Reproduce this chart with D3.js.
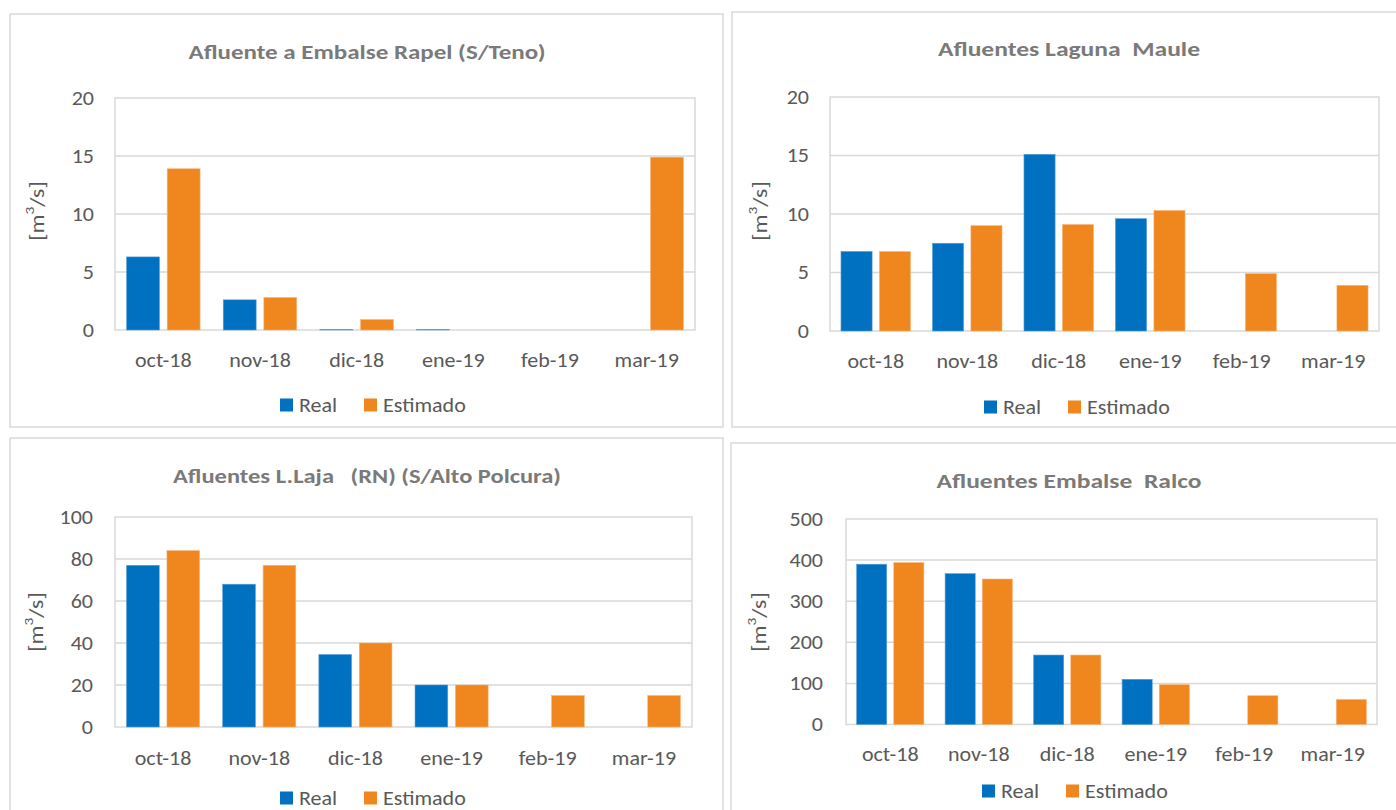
<!DOCTYPE html>
<html>
<head>
<meta charset="utf-8">
<script src="https://cdn.jsdelivr.net/npm/d3@7"></script>
<style>
  html, body { margin: 0; padding: 0; background: #ffffff; }
  svg { display: block; }
  text { font-family: Carlito, Calibri, Lato, "Open Sans", sans-serif; }
</style>
</head>
<body>
<svg id="chart" width="1396" height="810"></svg>
<script>
// Months shown on every panel
const months = ["oct-18", "nov-18", "dic-18", "ene-19", "feb-19", "mar-19"];
const seriesNames = ["Real", "Estimado"];

// Flows in m3/s, one pair of series per reservoir
const rapelReal = [6.3, 2.6, 0.05, 0.05, 0, 0];
const rapelEst  = [13.9, 2.8, 0.9, 0, 0, 14.9];

const mauleReal = [6.8, 7.5, 15.1, 9.6, 0, 0];
const mauleEst  = [6.8, 9.0, 9.1, 10.3, 4.9, 3.9];

const lajaReal = [77, 68, 34.5, 20, 0, 0];
const lajaEst  = [84, 77, 40, 20, 15, 15];

const ralcoReal = [390, 367, 169, 110, 0, 0];
const ralcoEst  = [394, 354, 169, 97, 70, 61];

// Y-axis tick values
const ticks20  = [0, 5, 10, 15, 20];
const ticks100 = [0, 20, 40, 60, 80, 100];
const ticks500 = [0, 100, 200, 300, 400, 500];

// Panel titles
const titles = [
  "Afluente a Embalse Rapel (S/Teno)",
  "Afluentes Laguna  Maule",
  "Afluentes L.Laja   (RN) (S/Alto Polcura)",
  "Afluentes Embalse  Ralco"
];

const colors = { "Real": "#0070C0", "Estimado": "#EF861E" };
const edge = { "Real": "#5a9fd6", "Estimado": "#f6b67a" };
const gridColor = "#d9d9d9";
const textColor = "#595959";
const titleColor = "#7a7a7a";
const WIDEN = 1.13;   // horizontal widening of body text
const FS = 19.5;      // body font size

const panels = [
  { title: titles[0], real: rapelReal, est: rapelEst, ticks: ticks20,
    box: [10, 14, 713, 413], plot: [115, 695, 98, 330],
    titleY: 52, titleX: 367, titleW: 357, xLabY: 360, legY: 405, legX: 280,
    yLabX: 37, yLabY: 211, tickR: 94 },
  { title: titles[1], real: mauleReal, est: mauleEst, ticks: ticks20,
    box: [732, 12, 700, 415], plot: [830, 1379, 97, 331],
    titleY: 49, titleX: 1069, titleW: 262, xLabY: 361, legY: 407, legX: 984,
    yLabX: 760, yLabY: 211, tickR: 809 },
  { title: titles[2], real: lajaReal, est: lajaEst, ticks: ticks100,
    box: [10, 438, 713, 400], plot: [115, 692, 517, 727],
    titleY: 476, titleX: 367, titleW: 388, xLabY: 758, legY: 798, legX: 280,
    yLabX: 36, yLabY: 622, tickR: 93 },
  { title: titles[3], real: ralcoReal, est: ralcoEst, ticks: ticks500,
    box: [731, 443, 700, 400], plot: [846, 1377, 519, 724.5],
    titleY: 481, titleX: 1069, titleW: 265, xLabY: 754, legY: 791, legX: 982,
    yLabX: 759, yLabY: 622, tickR: 823 }
];

const svg = d3.select("#chart");

function widen(sel, factor) {
  sel.each(function () {
    const w = this.getComputedTextLength();
    d3.select(this).attr("textLength", w * factor).attr("lengthAdjust", "spacingAndGlyphs");
  });
}

panels.forEach(p => {
  const g = svg.append("g");
  const [bx, by, bw, bh] = p.box;
  const [l, r, t, b] = p.plot;

  // Chart frame
  g.append("rect")
    .attr("x", bx).attr("y", by).attr("width", bw).attr("height", bh)
    .attr("fill", "#fff").attr("stroke", gridColor).attr("stroke-width", 1.5);

  // Title
  g.append("text")
    .attr("x", p.titleX).attr("y", p.titleY)
    .attr("text-anchor", "middle").attr("dominant-baseline", "central")
    .attr("font-size", 21).attr("font-weight", "bold")
    .attr("fill", titleColor)
    .style("white-space", "pre")
    .attr("textLength", p.titleW).attr("lengthAdjust", "spacingAndGlyphs")
    .text(p.title);

  const yMax = p.ticks[p.ticks.length - 1];
  const y = d3.scaleLinear().domain([0, yMax]).range([b, t]);
  const x0 = d3.scaleBand().domain(months).range([l, r]);
  const x1 = d3.scaleBand().domain(seriesNames)
    .range([0, x0.bandwidth()]).paddingInner(0.19).paddingOuter(0.2855);

  // Gridlines
  g.append("g").selectAll("line").data(p.ticks.slice(1, -1)).join("line")
    .attr("x1", l).attr("x2", r)
    .attr("y1", d => y(d)).attr("y2", d => y(d))
    .attr("stroke", gridColor).attr("stroke-width", 1.5);

  // Plot area border
  g.append("rect")
    .attr("x", l).attr("y", t).attr("width", r - l).attr("height", b - t)
    .attr("fill", "none").attr("stroke", gridColor).attr("stroke-width", 1.5);

  // Y axis labels
  const yAxis = d3.axisLeft(y).tickValues(p.ticks).tickSize(0).tickPadding(0);
  const ya = g.append("g").attr("transform", `translate(${p.tickR},0)`).call(yAxis);
  ya.select(".domain").remove();
  ya.selectAll("text").attr("font-size", FS).attr("fill", textColor)
    .style("font-family", "Carlito, Calibri, Lato, sans-serif")
    .call(widen, WIDEN);

  // X axis labels
  const xAxis = d3.axisBottom(x0).tickSize(0).tickPadding(0);
  const xa = g.append("g").attr("transform", `translate(0,${p.xLabY})`).call(xAxis);
  xa.select(".domain").remove();
  xa.selectAll("text").attr("font-size", FS).attr("fill", textColor)
    .attr("dy", "0.35em")
    .style("font-family", "Carlito, Calibri, Lato, sans-serif")
    .call(widen, WIDEN);

  // Bars
  const rows = months.map((m, i) => ({ m, vals: [
    { s: "Real", v: p.real[i] }, { s: "Estimado", v: p.est[i] } ] }));
  g.append("g").selectAll("g").data(rows).join("g")
    .attr("transform", d => `translate(${x0(d.m)},0)`)
    .selectAll("rect").data(d => d.vals.filter(e => e.v > 0)).join("rect")
    .attr("x", d => x1(d.s)).attr("width", x1.bandwidth())
    .attr("y", d => y(d.v)).attr("height", d => b - y(d.v))
    .attr("fill", d => colors[d.s])
    .attr("stroke", d => edge[d.s]).attr("stroke-width", 0.6);

  // Y axis title
  const yt = g.append("text")
    .attr("transform", `translate(${p.yLabX},${p.yLabY}) rotate(-90) scale(1.22,1)`)
    .attr("text-anchor", "middle").attr("dominant-baseline", "central")
    .attr("font-size", FS).attr("fill", textColor);
  yt.append("tspan").text("[m");
  yt.append("tspan").attr("font-size", 12.5).attr("dy", -7).text("3");
  yt.append("tspan").attr("dy", 7).text("/s]");

  // Legend
  const leg = g.append("g").attr("transform", `translate(${p.legX},${p.legY})`);
  const offsets = [0, 84];
  seriesNames.forEach((s, i) => {
    const li = leg.append("g").attr("transform", `translate(${offsets[i]},0)`);
    li.append("rect").attr("x", 0).attr("y", -6.5).attr("width", 13).attr("height", 13)
      .attr("fill", colors[s]);
    li.append("text").attr("x", 19).attr("y", 0).attr("dominant-baseline", "central")
      .attr("font-size", FS).attr("fill", textColor).text(s)
      .call(widen, WIDEN);
  });
});
</script>
</body>
</html>
